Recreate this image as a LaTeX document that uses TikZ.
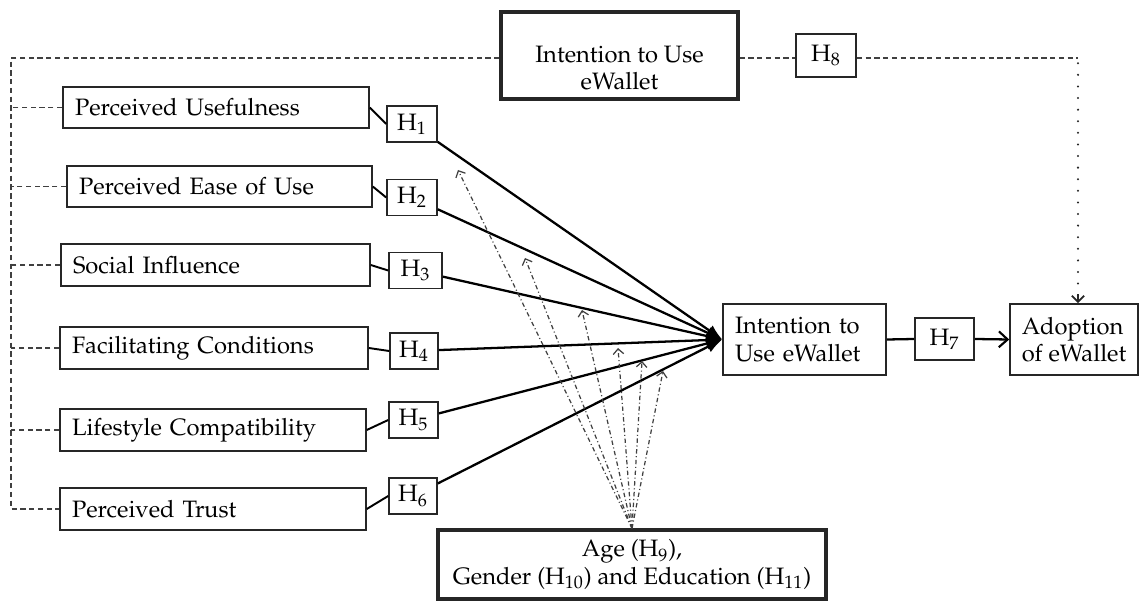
\documentclass[tikz,border=0pt]{standalone}
\usepackage[T1]{fontenc}
\usepackage{mathpazo}
\usetikzlibrary{arrows.meta}
\tikzset{
  txt/.style={font=\fontsize{13.5}{15.5}\selectfont},
  box/.style={draw=black!85, line width=0.9pt, inner sep=0pt, minimum height=0.83cm, txt},
  catbox/.style={box, align=left},
  hbox/.style={box, minimum width=1.0cm, minimum height=0.72cm},
  bigbox/.style={box, line width=1.8pt, align=center},
  dashln/.style={draw=black!75, line width=1pt, dash pattern=on 3pt off 2pt},
  dotln/.style={draw=black!85, line width=1.3pt, dash pattern=on 0pt off 6.6pt, line cap=round},
  mainln/.style={draw=black, line width=1.3pt},
  modln/.style={draw=black!75, line width=0.7pt, dash pattern=on 2.5pt off 1.5pt on 0.6pt off 1.5pt,
    -{Straight Barb[length=3pt,width=6pt,line width=0.7pt]}},
}
\begin{document}
\begin{tikzpicture}[x=0.02cm, y=-0.02cm]
\useasboundingbox (0,0) rectangle (1140,601);

% left category boxes
\node[catbox, minimum width=6.12cm, text width=5.64cm, minimum height=0.82cm] (pu) at (216,107.5) {Perceived Usefulness};
\node[catbox, minimum width=6.10cm, text width=5.62cm, minimum height=0.82cm] (peou) at (219.5,186.5) {Perceived Ease of Use};
\node[catbox, minimum width=6.18cm, text width=5.70cm, minimum height=0.84cm] (si) at (215.5,265) {Social Influence};
\node[catbox, minimum width=6.16cm, text width=5.68cm, minimum height=0.84cm] (fc) at (214,348) {Facilitating Conditions};
\node[catbox, minimum width=6.12cm, text width=5.64cm, minimum height=0.84cm] (lc) at (213,430) {Lifestyle Compatibility};
\node[catbox, minimum width=6.12cm, text width=5.64cm, minimum height=0.84cm] (pt) at (213,509) {Perceived Trust};

% hypothesis boxes
\node[hbox] (h1) at (412,124) {H\textsubscript{1}};
\node[hbox] (h2) at (412,197.5) {H\textsubscript{2}};
\node[hbox, minimum width=1.06cm] (h3) at (415.5,270.5) {H\textsubscript{3}};
\node[hbox, minimum width=0.96cm] (h4) at (414,351) {H\textsubscript{4}};
\node[hbox, minimum width=0.98cm] (h5) at (413.5,420) {H\textsubscript{5}};
\node[hbox, minimum width=0.96cm] (h6) at (413,496) {H\textsubscript{6}};

% right boxes
\node[box, minimum width=3.26cm, text width=2.78cm, minimum height=1.42cm, align=left] (iu) at (804.5,339.5) {Intention to\\Use eWallet};
\node[hbox, minimum width=1.18cm, minimum height=0.84cm] (h7) at (944.5,339) {H\textsubscript{7}};
\node[box, minimum width=2.56cm, minimum height=1.42cm, align=left] (ad) at (1074,339.5) {Adoption\\of eWallet};

% top box and H8
\node[bigbox, minimum width=4.74cm, minimum height=1.74cm] (tiu) at (619.5,55.5) {};
\node[txt, align=center, inner sep=0pt] (tiut) at (619.5,68) {Intention to Use\\eWallet};
\node[hbox, minimum width=1.2cm, minimum height=0.86cm] (h8) at (826,55.5) {H\textsubscript{8}};

% moderator box
\node[bigbox, minimum width=7.76cm, minimum height=1.38cm] (mod) at (632,564.5) {Age (H\textsubscript{9}),\\Gender (H\textsubscript{10}) and Education (H\textsubscript{11})};

% left dashed bracket
\coordinate (lt) at (11,58);
\coordinate (lb) at (11,509);
\draw[dashln] (tiu.west |- lt) -- (lt) -- (lb) -- (pt.west);
\draw[dashln] (pu.west) -- (pu.west -| lt);
\draw[dashln] (peou.west) -- (peou.west -| lt);
\draw[dashln] (si.west) -- (si.west -| lt);
\draw[dashln] (fc.west) -- (fc.west -| lt);
\draw[dashln] (lc.west) -- (lc.west -| lt);

% H8 path
\coordinate (rc) at (1078,58);
\draw[dashln] (tiu.east |- lt) -- (h8.west |- lt);
\draw[dashln] (h8.east |- lt) -- (rc);
\draw[dotln] ([yshift=-3pt]rc) -- ([yshift=4pt]rc |- ad.north);
\draw[draw=black!85, line width=1pt, -{Straight Barb[length=3.5pt,width=7pt,line width=1pt]}] ([yshift=5pt]rc |- ad.north) -- (rc |- ad.north);

% category to H boxes
\foreach \a/\b in {pu/h1, peou/h2, si/h3, fc/h4, lc/h5, pt/h6}
  \draw[mainln, line width=1.1pt] (\a.east) -- (\b.west);

% converging arrows
\coordinate (cv) at (iu.west);
\foreach \b in {h1,h2,h3,h4,h5,h6}
  \draw[mainln, -{Latex[length=9pt,width=7pt]}] (\b) -- (cv);

% H7
\draw[mainln] (iu.east) -- (h7.west);
\draw[mainln, -{Straight Barb[length=5pt,width=9pt,line width=1.2pt]}] (h7.east) -- (ad.west);

% moderator arrows
\coordinate (m1) at (458,170);
\coordinate (m2) at (525,258);
\coordinate (m3) at (582,310);
\coordinate (m4) at (618,348);
\coordinate (m5) at (642,361);
\coordinate (m6) at (663,371);
\foreach \m in {m1,m2,m3,m4,m5,m6}
  \draw[modln] (mod.north) -- (\m);
\end{tikzpicture}
\end{document}
